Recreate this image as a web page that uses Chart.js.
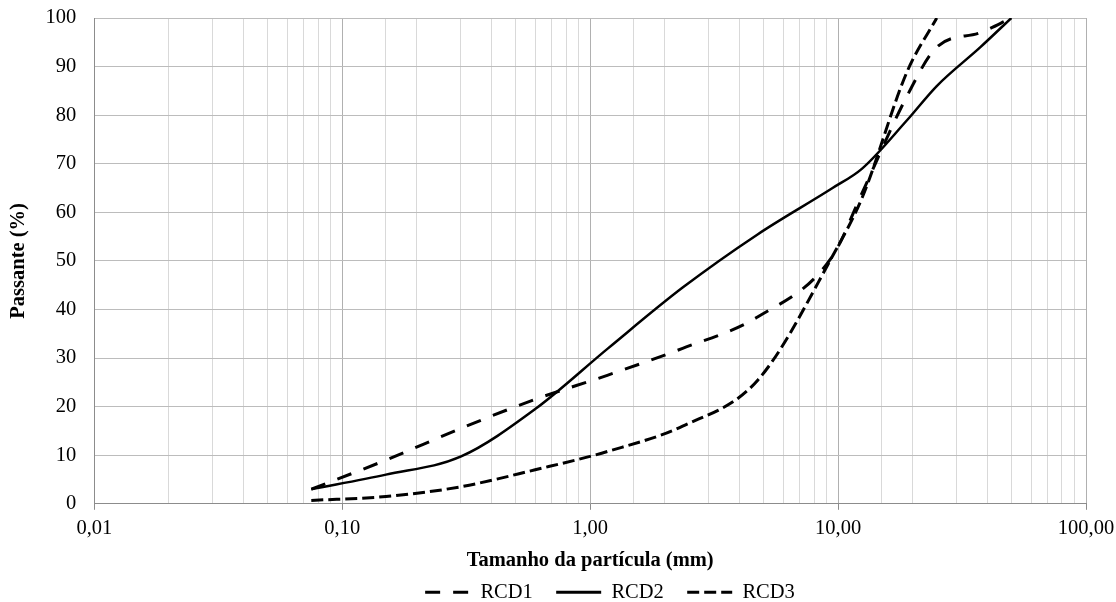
<!DOCTYPE html>
<html>
<head>
<meta charset="utf-8">
<script src="https://cdn.jsdelivr.net/npm/chart.js@4"></script>
<style>
  html, body { margin: 0; padding: 0; background: #fff; }
  #wrap { width: 1116px; height: 602px; }
</style>
</head>
<body>
<div id="wrap"><canvas id="chart-curva"></canvas></div>
<script>
// Peneiras (mm) e porcentagem passante de cada amostra
const peneiras = [0.075, 0.15, 0.3, 0.6, 1.18, 2.36, 4.75, 9.5, 12.5, 19, 25, 37.5, 50];
const rcd1 = [3, 9, 15.5, 21.5, 26.5, 32, 38.5, 51, 64, 84, 94, 97, 100];
const rcd2 = [3, 6, 9.7, 19.5, 32, 44.5, 55.5, 65, 69, 79, 86, 94, 100];
const rcd3 = [0.7, 1.5, 3.5, 7, 10.8, 16, 25.5, 51, 63, 89, 100];
const ticksX = [0.01, 0.1, 1, 10, 100];

const FONT = "'Liberation Serif', 'Times New Roman', serif";
const TAM = 20.5;
const DESLOC_LEGENDA = 51; // legenda fica um pouco à direita do centro

function pares(ys) {
  return ys.map((y, i) => ({ x: peneiras[i], y: y }));
}

function isDecada(v) {
  return ticksX.some(t => Math.abs(t - v) / t < 1e-6);
}

const moverLegenda = {
  id: 'moverLegenda',
  afterLayout(chart) {
    chart.legend.left += 2 * DESLOC_LEGENDA;
  }
};

const ctx = document.getElementById('chart-curva').getContext('2d');

new Chart(ctx, {
  type: 'line',
  data: {
    datasets: [
      { label: 'RCD1', data: pares(rcd1), borderDash: [15, 13] },
      { label: 'RCD2', data: pares(rcd2), borderDash: [] },
      { label: 'RCD3', data: pares(rcd3), borderDash: [12, 5] }
    ].map(ds => Object.assign(ds, {
      borderColor: '#000',
      borderWidth: ds.borderDash.length ? 3 : 2.5,
      pointRadius: 0,
      fill: false,
      cubicInterpolationMode: 'monotone'
    }))
  },
  plugins: [moverLegenda],
  options: {
    responsive: true,
    maintainAspectRatio: false,
    animation: false,
    layout: { padding: { top: 0, right: 0, left: 2, bottom: 0 } },
    plugins: {
      tooltip: { enabled: false },
      legend: {
        position: 'bottom',
        maxHeight: 28,
        labels: {
          color: '#000',
          font: { family: FONT, size: TAM },
          usePointStyle: true,
          pointStyleWidth: 45,
          boxHeight: TAM,
          padding: 8,
          generateLabels: chart => chart.data.datasets.map((ds, i) => ({
            // espaços no fim para afastar os itens sem aumentar a altura
            text: i < 2 ? ds.label + '   ' : ds.label,
            fillStyle: 'transparent',
            strokeStyle: '#000',
            lineWidth: 3,
            lineDash: ds.borderDash,
            pointStyle: 'line',
            datasetIndex: i,
            hidden: false
          }))
        }
      }
    },
    scales: {
      x: {
        type: 'logarithmic',
        min: 0.01,
        max: 100,
        afterFit: s => { s.paddingRight = 30; },
        border: { color: '#8c8c8c', width: 1 },
        grid: {
          color: c => (c.tick && isDecada(c.tick.value)) ? '#b0b0b0' : '#d9d9d9',
          tickColor: c => (c.tick && isDecada(c.tick.value)) ? '#8c8c8c' : 'rgba(0,0,0,0)',
          tickLength: 6
        },
        ticks: {
          autoSkip: false,
          maxRotation: 0,
          padding: 7,
          color: '#000',
          font: { family: FONT, size: TAM },
          callback: v => isDecada(v) ? v.toFixed(2).replace('.', ',') : ''
        },
        title: {
          display: true,
          text: 'Tamanho da partícula (mm)',
          color: '#000',
          font: { family: FONT, size: TAM, weight: 'bold' },
          padding: { top: 0, bottom: 1 }
        }
      },
      y: {
        min: 0,
        max: 100,
        afterFit: s => { s.paddingTop = 18; },
        border: { color: '#8c8c8c', width: 1 },
        grid: { color: '#bcbcbc', drawTicks: false },
        ticks: {
          stepSize: 10,
          padding: 18,
          color: '#000',
          font: { family: FONT, size: TAM }
        },
        title: {
          display: true,
          text: 'Passante (%)',
          color: '#000',
          font: { family: FONT, size: TAM, weight: 'bold' },
          padding: { top: 4, bottom: -3 }
        }
      }
    }
  }
});
</script>
</body>
</html>
